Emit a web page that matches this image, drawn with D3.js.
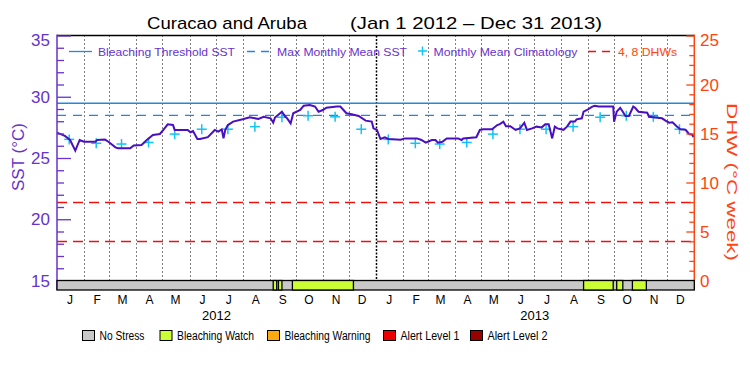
<!DOCTYPE html>
<html>
<head>
<meta charset="utf-8">
<script src="https://cdn.jsdelivr.net/npm/d3@7"></script>
<style>
  body { margin: 0; background: #fff; }
  svg text { font-family: "Liberation Sans", Arial, sans-serif; }
</style>
</head>
<body>
<svg id="chart" width="750" height="375"></svg>
<script>
// ---- data ----
var monthLabels = ["J","F","M","A","M","J","J","A","S","O","N","D"];
var yearLabels = ["2012", "2013"];

// daily SST (days since Jan 1 2012)
var sstDays = [0,9,15,21,26,31,44,46,55,59,67,70,84,88,97,103,110,118,122,127,133,135,150,153,156,161,164,
  173,181,185,189,191,193,196,202,213,221,231,237,245,248,250,258,262,264,268,271,279,283,290,296,300,305,309,
  321,325,332,338,346,354,361,363,367,371,376,380,394,399,413,418,423,430,434,437,442,447,460,464,466,481,485,
  489,499,505,508,512,515,520,526,531,536,539,545,550,556,560,564,568,571,574,581,585,589,594,596,602,604,608,
  614,617,621,638,639,642,646,649,652,656,661,663,667,677,679,686,694,698,702,706,711,715,721,725,729,730];
var sstValues = [27.07,26.8,26.47,25.6,26.47,26.33,26.33,26.47,26.5,26.33,25.87,25.8,25.8,26.03,26.06,26.47,26.88,26.96,27.29,27.75,27.7,27.29,27.29,27.1,27.2,26.55,26.55,
  26.7,27.29,27.15,27.34,26.6,27.3,27.69,27.97,28.16,28.32,28.19,28.37,28.24,27.88,28.3,28.78,28.37,28.24,27.83,28.65,28.92,29.27,29.33,29.2,28.78,28.92,29.1,
  29.2,29.2,28.65,28.57,28.43,28.05,27.97,27.42,27.29,26.55,26.69,26.55,26.5,26.6,26.6,26.47,26.25,26.47,26.47,26.25,26.33,26.6,26.6,26.47,26.6,26.69,27.29,
  27.34,27.34,27.69,27.77,27.96,27.6,27.6,27.29,27.42,27.88,27.29,27.42,27.56,27.5,27.75,27.75,26.6,27.56,27.42,27.3,27.56,27.97,27.97,28.16,28.24,28.78,28.92,
  29.2,29.27,29.2,29.2,27.96,28.78,29.1,28.78,28.43,28.43,29.2,29.1,28.78,28.7,28.37,28.3,28.24,28.05,27.88,27.92,27.57,27.34,27.3,26.96,26.9,26.69];

// monthly mean climatology, Jan..Dec
var climValues = [26.52,26.2,26.14,26.27,26.95,27.35,27.35,27.56,28.33,28.45,28.36,27.35];

var bleachingThreshold = 29.47;
var maxMonthlyMean = 28.48;
var dhwLevels = [4, 8];

// stress periods (days since Jan 1 2012), level: 1 = Bleaching Watch
var stressStart = [248, 254, 270, 604, 642, 660];
var stressEnd   = [252, 258, 340, 638, 649, 676];
var stressLevel = [1, 1, 1, 1, 1, 1];

var stressNames  = ["No Stress","Bleaching Watch","Bleaching Warning","Alert Level 1","Alert Level 2"];
var stressColors = ["#c8c8c8","#ccff33","#ffaa11","#ee0000","#990000"];

var sstTicks = [15, 20, 25, 30, 35];
var dhwTicks = [0, 5, 10, 15, 20, 25];

// ---- drawing ----
var svg = d3.select("#chart");
var margin = {left: 57, right: 694.3, top: 35.5, bottom: 280.5};
var start = new Date(2012, 0, 1), end = new Date(2014, 0, 1);
var purple = "#6633cc", orange = "#ff4411", lineBlue = "#1e88e5";

var x = d3.scaleTime().domain([start, end]).range([margin.left, margin.right]);
var y = d3.scaleLinear().domain([15, 35]).range([margin.bottom, margin.top]);
var yDhw = d3.scaleLinear().domain([0, 25]).range([margin.bottom, margin.top]);
function dayDate(d) { return d3.timeDay.offset(start, d); }

// title
svg.append("text").attr("x", 147).attr("y", 29).attr("font-size", 17)
  .attr("textLength", 160).attr("lengthAdjust", "spacingAndGlyphs")
  .text("Curacao and Aruba");
svg.append("text").attr("x", 350).attr("y", 29).attr("font-size", 17)
  .attr("textLength", 252).attr("lengthAdjust", "spacingAndGlyphs")
  .text("(Jan 1 2012 \u2013 Dec 31 2013)");

// month dotted lines
var monthStarts = d3.timeMonth.range(d3.timeMonth.offset(start, 1), end);
svg.append("g").selectAll("line").data(monthStarts).enter().append("line")
  .attr("x1", function(d) { return Math.round(x(d)) + 0.5; })
  .attr("x2", function(d) { return Math.round(x(d)) + 0.5; })
  .attr("y1", margin.top).attr("y2", margin.bottom)
  .attr("stroke", "#000").attr("stroke-width", function(d) { return d.getMonth() == 0 ? 1.5 : 1; })
  .attr("stroke-dasharray", function(d) { return d.getMonth() == 0 ? "2,1.5" : "1,3"; });

// DHW reference lines
svg.append("g").selectAll("line").data(dhwLevels).enter().append("line")
  .attr("x1", margin.left).attr("x2", margin.right)
  .attr("y1", function(d) { return Math.round(yDhw(d)) + 0.5; })
  .attr("y2", function(d) { return Math.round(yDhw(d)) + 0.5; })
  .attr("stroke", "#ee1111").attr("stroke-width", 1.3).attr("stroke-dasharray", "10,6");

// threshold and MMM
svg.append("line").attr("x1", margin.left).attr("x2", margin.right)
  .attr("y1", y(bleachingThreshold)).attr("y2", y(bleachingThreshold))
  .attr("stroke", lineBlue).attr("stroke-width", 1.3);
svg.append("line").attr("x1", margin.left).attr("x2", margin.right)
  .attr("y1", y(maxMonthlyMean)).attr("y2", y(maxMonthlyMean))
  .attr("stroke", lineBlue).attr("stroke-width", 1.3).attr("stroke-dasharray", "9,7");

// climatology crosses
var climPoints = [];
[2012, 2013].forEach(function(yr) {
  climValues.forEach(function(v, m) { climPoints.push({date: new Date(yr, m, 15), value: v}); });
});
var cross = svg.append("g").selectAll("g").data(climPoints).enter().append("g")
  .attr("transform", function(d) { return "translate(" + x(d.date) + "," + y(d.value) + ")"; });
cross.append("line").attr("x1", -5).attr("x2", 5).attr("stroke", "#11c4f2").attr("stroke-width", 1.5);
cross.append("line").attr("y1", -5).attr("y2", 5).attr("stroke", "#11c4f2").attr("stroke-width", 1.5);

// SST line
var sstLine = d3.line()
  .x(function(d, i) { return x(dayDate(sstDays[i])); })
  .y(function(d) { return y(d); });
svg.append("path").datum(sstValues).attr("d", sstLine)
  .attr("fill", "none").attr("stroke", "#4a0fc0").attr("stroke-width", 2);

// top border
svg.append("line").attr("x1", margin.left).attr("x2", margin.right)
  .attr("y1", margin.top).attr("y2", margin.top).attr("stroke", "#000").attr("stroke-width", 1.3);

// left axis
var leftAxis = d3.axisRight(y).tickValues(d3.range(15, 36, 1)).tickSize(7).tickFormat("");
var gl = svg.append("g").attr("transform", "translate(" + margin.left + ",0)").call(leftAxis);
gl.select(".domain").remove();
gl.selectAll("line").attr("stroke", purple).attr("stroke-width", 1.3)
  .attr("x2", function(d) { return d % 5 == 0 ? 14 : 7; });
svg.append("line").attr("x1", margin.left).attr("x2", margin.left)
  .attr("y1", margin.top - 1).attr("y2", 290).attr("stroke", purple).attr("stroke-width", 1.5);
svg.append("g").selectAll("text").data(sstTicks).enter().append("text")
  .attr("x", 50).attr("y", function(d) { return y(d) + (d == 35 ? 10 : 6); })
  .attr("text-anchor", "end").attr("font-size", 17).attr("fill", purple)
  .text(function(d) { return d; });
svg.append("text").attr("transform", "translate(24,157) rotate(-90)")
  .attr("text-anchor", "middle").attr("font-size", 16).attr("fill", purple)
  .attr("textLength", 68).attr("lengthAdjust", "spacingAndGlyphs")
  .text("SST (\u00b0C)");

// right axis
var rightAxis = d3.axisLeft(yDhw).tickValues(d3.range(0, 26, 1)).tickSize(5).tickFormat("");
var gr = svg.append("g").attr("transform", "translate(" + margin.right + ",0)").call(rightAxis);
gr.select(".domain").remove();
gr.selectAll("line").attr("stroke", orange).attr("stroke-width", 1.3)
  .attr("x2", function(d) { return d % 5 == 0 ? -8 : -5; });
svg.append("line").attr("x1", margin.right).attr("x2", margin.right)
  .attr("y1", margin.top - 1).attr("y2", 290).attr("stroke", orange).attr("stroke-width", 1.5);
svg.append("g").selectAll("text").data(dhwTicks).enter().append("text")
  .attr("x", 700).attr("y", function(d) { return yDhw(d) + (d == 25 ? 10 : 6); })
  .attr("font-size", 17).attr("fill", orange)
  .text(function(d) { return d; });
svg.append("text").attr("transform", "translate(727,182) rotate(90)")
  .attr("text-anchor", "middle").attr("font-size", 15.5).attr("fill", orange)
  .attr("textLength", 158).attr("lengthAdjust", "spacingAndGlyphs")
  .text("DHW (\u00b0C week)");

// stress bar
svg.append("rect").attr("x", margin.left).attr("y", margin.bottom)
  .attr("width", margin.right - margin.left).attr("height", 9.5)
  .attr("fill", stressColors[0]).attr("stroke", "#000").attr("stroke-width", 1.3);
svg.append("g").selectAll("rect").data(stressStart).enter().append("rect")
  .attr("x", function(d) { return x(dayDate(d)); })
  .attr("width", function(d, i) { return x(dayDate(stressEnd[i])) - x(dayDate(d)); })
  .attr("y", margin.bottom).attr("height", 9.5)
  .attr("fill", function(d, i) { return stressColors[stressLevel[i]]; })
  .attr("stroke", "#000").attr("stroke-width", 1.3);

// month and year labels
var monthMids = d3.timeMonth.range(start, end).map(function(d) { return new Date(d.getFullYear(), d.getMonth(), 16); });
svg.append("g").selectAll("text").data(monthMids).enter().append("text")
  .attr("x", function(d) { return x(d); }).attr("y", 303.5)
  .attr("text-anchor", "middle").attr("font-size", 12)
  .text(function(d) { return monthLabels[d.getMonth()]; });
svg.append("g").selectAll("text").data(yearLabels).enter().append("text")
  .attr("x", function(d) { var yr = +d; return x(new Date(yr, 6, 2)); }).attr("y", 319.5)
  .attr("text-anchor", "middle").attr("font-size", 13)
  .text(function(d) { return d; });

// top legend
var lg = svg.append("g").attr("font-size", 11.5);
lg.append("line").attr("x1", 69).attr("x2", 92).attr("y1", 51.5).attr("y2", 51.5)
  .attr("stroke", lineBlue).attr("stroke-width", 1.3);
lg.append("text").attr("x", 98).attr("y", 55.5).attr("fill", purple)
  .attr("textLength", 137).attr("lengthAdjust", "spacingAndGlyphs").text("Bleaching Threshold SST");
lg.append("line").attr("x1", 247).attr("x2", 269).attr("y1", 51.5).attr("y2", 51.5)
  .attr("stroke", lineBlue).attr("stroke-width", 1.3).attr("stroke-dasharray", "8,6");
lg.append("text").attr("x", 277).attr("y", 55.5).attr("fill", purple)
  .attr("textLength", 130).attr("lengthAdjust", "spacingAndGlyphs").text("Max Monthly Mean SST");
lg.append("line").attr("x1", 418).attr("x2", 427).attr("y1", 51).attr("y2", 51).attr("stroke", "#11c4f2").attr("stroke-width", 1.5);
lg.append("line").attr("x1", 422.5).attr("x2", 422.5).attr("y1", 46.5).attr("y2", 55.5).attr("stroke", "#11c4f2").attr("stroke-width", 1.5);
lg.append("text").attr("x", 433.5).attr("y", 55.5).attr("fill", purple)
  .attr("textLength", 144).attr("lengthAdjust", "spacingAndGlyphs").text("Monthly Mean Climatology");
lg.append("line").attr("x1", 588).attr("x2", 612).attr("y1", 51.5).attr("y2", 51.5)
  .attr("stroke", "#ee1111").attr("stroke-width", 1.3).attr("stroke-dasharray", "8,6");
lg.append("text").attr("x", 618).attr("y", 55.5).attr("fill", orange)
  .attr("textLength", 59).attr("lengthAdjust", "spacingAndGlyphs").text("4, 8 DHWs");

// bottom legend
var legBoxX = [82, 159.5, 267, 383, 470];
var legTextW = [45, 77, 86, 59, 60];
var bl = svg.append("g").selectAll("g").data(stressNames).enter().append("g")
  .attr("transform", function(d, i) { return "translate(" + legBoxX[i] + ",0)"; });
bl.append("rect").attr("x", 0.5).attr("y", 330.5).attr("width", 12).attr("height", 10)
  .attr("fill", function(d, i) { return stressColors[i]; }).attr("stroke", "#000").attr("stroke-width", 1);
bl.append("text").attr("x", 17.5).attr("y", 340).attr("font-size", 12.5)
  .attr("textLength", function(d, i) { return legTextW[i]; }).attr("lengthAdjust", "spacingAndGlyphs")
  .text(function(d) { return d; });
</script>
</body>
</html>
